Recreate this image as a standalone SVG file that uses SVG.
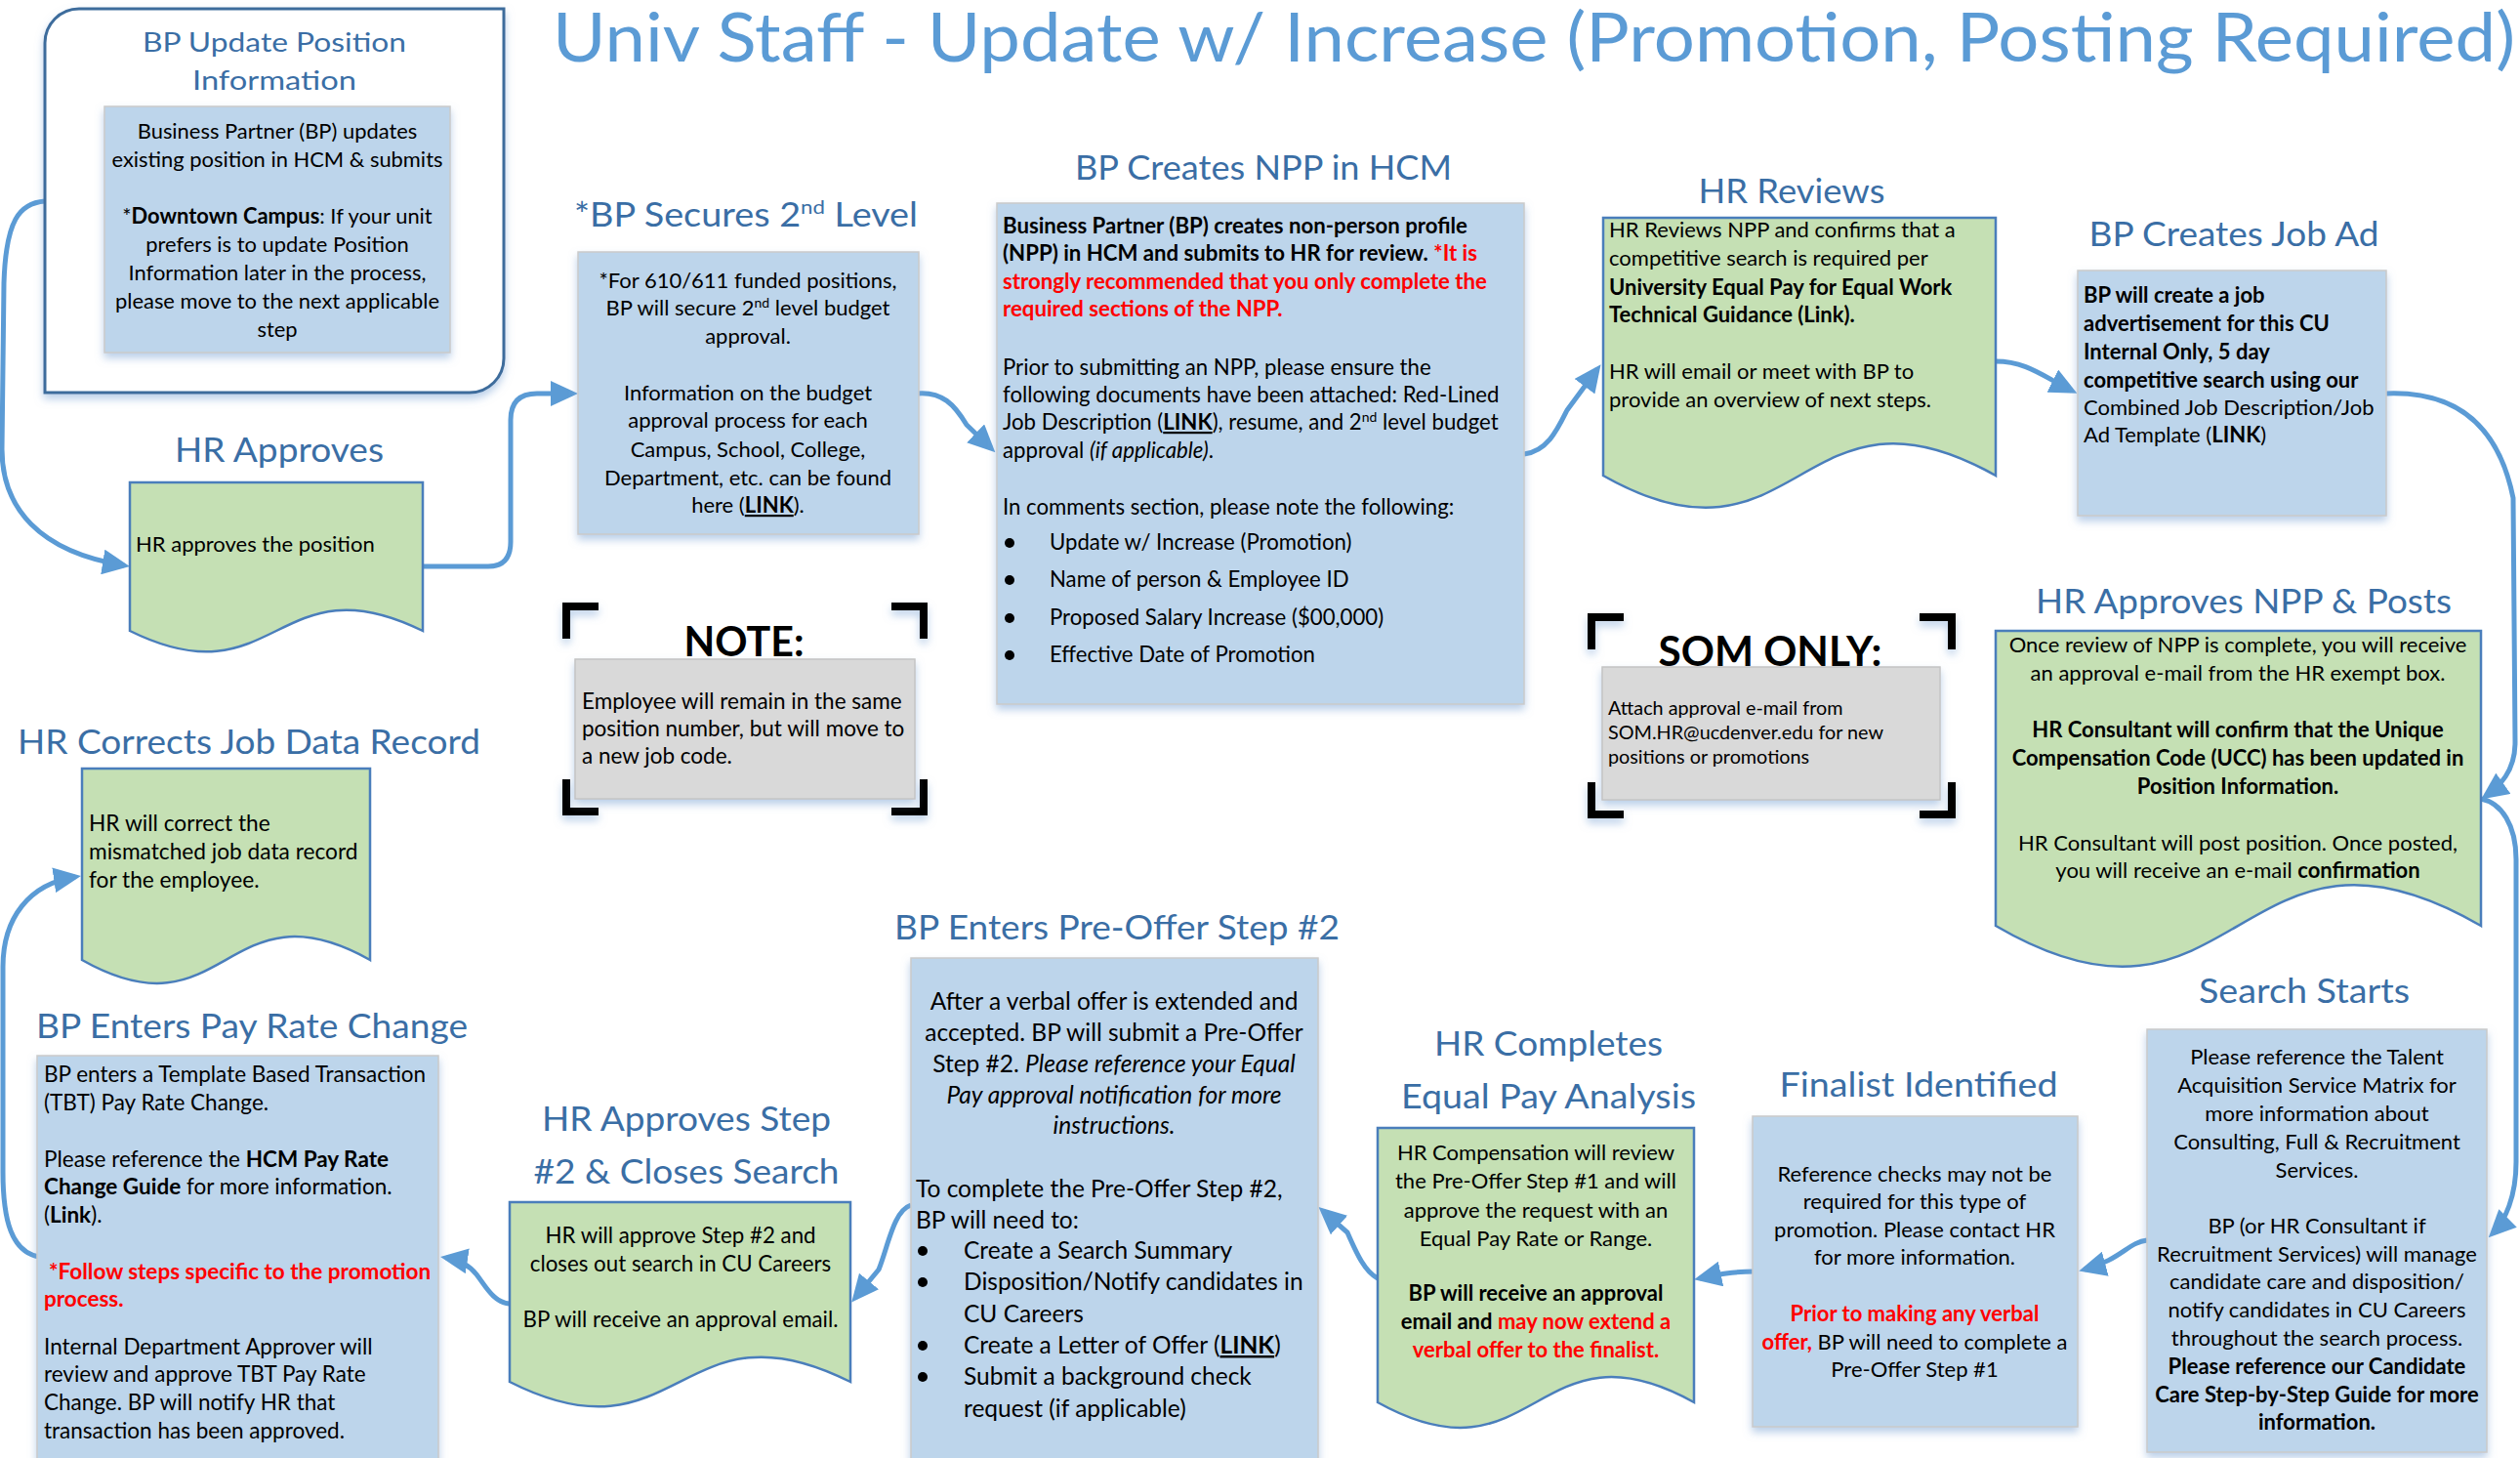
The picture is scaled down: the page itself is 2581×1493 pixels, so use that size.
<svg xmlns="http://www.w3.org/2000/svg" width="2581" height="1493" viewBox="0 0 2581 1493">
<style>
.ttl{font-family:Lato,"Open Sans",sans-serif;fill:#3A6EA5}
.tx{font-family:Lato,"Open Sans",sans-serif;fill:#000}
.b{font-weight:bold}
.r{fill:#FF0000;font-weight:bold}
.i{font-style:italic}
.u{text-decoration:underline}
.blue{fill:#BDD5EB;stroke:#CACACA;stroke-width:1.5}
.grey{fill:#D9D9D9;stroke:#C4C4C4;stroke-width:1.5}
.doc{fill:#C5E0B4;stroke:#4A7EBB;stroke-width:2.5}
.con{fill:none;stroke:#5B9BD5;stroke-width:5;marker-end:url(#ah)}
.brk{fill:none;stroke:#000;stroke-width:8}
.hd{font-family:Lato,"Open Sans",sans-serif;font-weight:bold;fill:#000}
</style>
<defs>
<filter id="sh" x="-10%" y="-10%" width="120%" height="130%">
<feDropShadow dx="0" dy="5" stdDeviation="4" flood-color="#7FA7D6" flood-opacity="0.55"/>
</filter>
<marker id="ah" markerUnits="userSpaceOnUse" viewBox="0 0 28 26" markerWidth="28" markerHeight="26" refX="22" refY="13" orient="auto">
<path d="M0,0 L28,13 L0,26 Z" fill="#5B9BD5"/>
</marker>
</defs>
<rect width="2581" height="1493" fill="#fff"/>

<g id="title">
<text x="566" y="63" font-family="Lato, 'Open Sans', sans-serif" font-size="70" textLength="2010" lengthAdjust="spacingAndGlyphs" fill="#5B9BD5">Univ Staff - Update w/ Increase (Promotion, Posting Required)</text>
</g>

<g id="connectors">
<path class="con" d="M46,206 C20,208 6,225 4,290 L2,460 C2,520 40,565 127,579"/>
<path class="con" d="M433,580 H500 Q523,580 523,555 V430 Q523,403 550,403 H586"/>
<path class="con" d="M938,403 C965,400 978,415 990,435 L1015,459"/>
<path class="con" d="M1561,465 C1585,462 1595,440 1605,420 L1636,378"/>
<path class="con" d="M2044,370 C2075,370 2092,385 2122,400"/>
<path class="con" d="M2444,403 C2520,400 2560,440 2574,510 L2576,760 C2576,790 2560,805 2546,815"/>
<path class="con" d="M2541,818 C2562,822 2577,845 2577,880 L2577,1190 C2577,1225 2566,1250 2553,1263"/>
<path class="con" d="M2199,1270 C2180,1272 2172,1290 2135,1300"/>
<path class="con" d="M1797,1302 C1775,1302 1760,1305 1741,1309"/>
<path class="con" d="M1411,1309 C1398,1302 1390,1285 1380,1262 L1355,1240"/>
<path class="con" d="M933,1234 C915,1240 910,1275 900,1300 L876,1329"/>
<path class="con" d="M522,1335 C505,1333 498,1318 488,1305 C480,1295 470,1290 457,1288"/>
<path class="con" d="M40,1287 C12,1282 3,1250 3,1200 L3,990 C3,940 30,905 77,898"/>
</g>

<g id="bp-update">
<path d="M46,44 A35,35 0 0 1 81,9 H516 V367 A35,35 0 0 1 481,402 H46 Z" fill="#fff" stroke="#3E6C9C" stroke-width="3" filter="url(#sh)"/>
<text class="ttl" x="281" y="53" text-anchor="middle" font-size="27" textLength="270" lengthAdjust="spacingAndGlyphs">BP Update Position</text>
<text class="ttl" x="281" y="92" text-anchor="middle" font-size="27" textLength="168" lengthAdjust="spacingAndGlyphs">Information</text>
<rect class="blue" x="107" y="109" width="354" height="252" filter="url(#sh)"/>
<g class="tx" font-size="21.9" text-anchor="middle">
<text x="284" y="142">Business Partner (BP) updates</text>
<text x="284" y="171">existing position in HCM &amp; submits</text>
<text x="284" y="229">*<tspan class="b">Downtown Campus</tspan>: If your unit</text>
<text x="284" y="258">prefers is to update Position</text>
<text x="284" y="287">Information later in the process,</text>
<text x="284" y="316">please move to the next applicable</text>
<text x="284" y="345">step</text>
</g>
</g>

<g id="hr-approves">
<text class="ttl" x="286" y="473" text-anchor="middle" font-size="34" textLength="214" lengthAdjust="spacingAndGlyphs">HR Approves</text>
<path class="doc" d="M133,494 H433 V646 C283,572 283,720 133,646 Z"/>
<text class="tx" x="139" y="565" font-size="22">HR approves the position</text>
</g>

<g id="bp-secures">
<text class="ttl" x="588" y="232" font-size="34" textLength="352" lengthAdjust="spacingAndGlyphs">*BP Secures 2<tspan dy="-13" font-size="20">nd</tspan><tspan dy="13"> Level</tspan></text>
<rect class="blue" x="592" y="258" width="349" height="289" filter="url(#sh)"/>
<g class="tx" font-size="22" text-anchor="middle">
<text x="766" y="295">*For 610/611 funded positions,</text>
<text x="766" y="323">BP will secure 2<tspan dy="-8" font-size="14">nd</tspan><tspan dy="8"> level budget</tspan></text>
<text x="766" y="352">approval.</text>
<text x="766" y="410">Information on the budget</text>
<text x="766" y="438">approval process for each</text>
<text x="766" y="468">Campus, School, College,</text>
<text x="766" y="497">Department, etc. can be found</text>
<text x="766" y="525">here (<tspan class="b u">LINK</tspan>).</text>
</g>
</g>

<g id="bp-npp">
<text class="ttl" x="1294" y="184" text-anchor="middle" font-size="34" textLength="386" lengthAdjust="spacingAndGlyphs">BP Creates NPP in HCM</text>
<rect class="blue" x="1021" y="208" width="540" height="513" filter="url(#sh)"/>
<g class="tx" font-size="22.2">
<text x="1027" y="239" class="b">Business Partner (BP) creates non-person profile</text>
<text x="1027" y="267"><tspan class="b">(NPP) in HCM and submits to HR for review. </tspan><tspan class="r">*It is</tspan></text>
<text x="1027" y="296" class="r">strongly recommended that you only complete the</text>
<text x="1027" y="324" class="r">required sections of the NPP.</text>
<text x="1027" y="384">Prior to submitting an NPP, please ensure the</text>
<text x="1027" y="412">following documents have been attached: Red-Lined</text>
<text x="1027" y="440">Job Description (<tspan class="b u">LINK</tspan>), resume,  and 2<tspan dy="-8" font-size="14">nd</tspan><tspan dy="8"> level budget</tspan></text>
<text x="1027" y="469">approval <tspan class="i">(if applicable)</tspan>.</text>
<text x="1027" y="527">In comments section, please note the following:</text>
<text x="1075" y="563">Update w/ Increase (Promotion)</text>
<text x="1075" y="601">Name of person &amp; Employee ID</text>
<text x="1075" y="640">Proposed Salary Increase ($00,000)</text>
<text x="1075" y="678">Effective Date of Promotion</text>
</g>
<g fill="#000">
<circle cx="1034" cy="556" r="5"/>
<circle cx="1034" cy="594" r="5"/>
<circle cx="1034" cy="633" r="5"/>
<circle cx="1034" cy="671" r="5"/>
</g>
</g>

<g id="hr-reviews">
<text class="ttl" x="1835" y="208" text-anchor="middle" font-size="34" textLength="191" lengthAdjust="spacingAndGlyphs">HR Reviews</text>
<path class="doc" d="M1642,223 H2044 V487 C1843,373 1843,601 1642,487 Z"/>
<g class="tx" font-size="22">
<text x="1648" y="243">HR Reviews NPP and confirms that a</text>
<text x="1648" y="272">competitive search is required per</text>
<text x="1648" y="302" class="b">University Equal Pay for Equal Work</text>
<text x="1648" y="330" class="b">Technical Guidance (Link).</text>
<text x="1648" y="388">HR will email or meet with BP to</text>
<text x="1648" y="417">provide an overview of next steps.</text>
</g>
</g>

<g id="bp-job-ad">
<text class="ttl" x="2288" y="252" text-anchor="middle" font-size="34" textLength="297" lengthAdjust="spacingAndGlyphs">BP Creates Job Ad</text>
<rect class="blue" x="2128" y="277" width="316" height="251" filter="url(#sh)"/>
<g class="tx" font-size="22">
<text x="2134" y="310" class="b">BP will create a job</text>
<text x="2134" y="339" class="b">advertisement for this CU</text>
<text x="2134" y="368" class="b">Internal Only, 5 day</text>
<text x="2134" y="397" class="b">competitive search using our</text>
<text x="2134" y="425">Combined Job Description/Job</text>
<text x="2134" y="453">Ad Template (<tspan class="b">LINK</tspan>)</text>
</g>
</g>

<g id="hr-approves-npp">
<text class="ttl" x="2298" y="628" text-anchor="middle" font-size="34" textLength="426" lengthAdjust="spacingAndGlyphs">HR Approves NPP &amp; Posts</text>
<path class="doc" d="M2044,646 H2541 V948 C2292,803 2292,1093 2044,948 Z"/>
<g class="tx" font-size="22" text-anchor="middle">
<text x="2292" y="668">Once review of NPP is complete, you will receive</text>
<text x="2292" y="697">an approval e-mail from the HR exempt box.</text>
<text x="2292" y="755" class="b">HR Consultant will confirm that the Unique</text>
<text x="2292" y="784" class="b">Compensation Code (UCC) has been updated in</text>
<text x="2292" y="813" class="b">Position Information.</text>
<text x="2292" y="871">HR Consultant will post position. Once posted,</text>
<text x="2292" y="899">you will receive an e-mail <tspan class="b">confirmation</tspan></text>
</g>
</g>

<g id="som-only">
<g filter="url(#sh)">
<path class="brk" d="M1630,665 V632 H1663 M1966,632 H1999 V665 M1630,801 V834 H1663 M1966,834 H1999 V801"/>
</g>
<text class="hd" x="1813" y="682" text-anchor="middle" font-size="42" textLength="229" lengthAdjust="spacingAndGlyphs">SOM ONLY:</text>
<rect class="grey" x="1641" y="683" width="346" height="136" filter="url(#sh)"/>
<g class="tx" font-size="19.8">
<text x="1647" y="732">Attach approval e-mail from</text>
<text x="1647" y="757">SOM.HR@ucdenver.edu for new</text>
<text x="1647" y="782">positions or promotions</text>
</g>
</g>

<g id="note">
<g filter="url(#sh)">
<path class="brk" d="M580,654 V621 H613 M913,621 H946 V654 M580,798 V831 H613 M913,831 H946 V798"/>
</g>
<text class="hd" x="762" y="672" text-anchor="middle" font-size="42" textLength="123" lengthAdjust="spacingAndGlyphs">NOTE:</text>
<rect class="grey" x="589" y="675" width="348" height="143" filter="url(#sh)"/>
<g class="tx" font-size="22.5">
<text x="596" y="726">Employee will remain in the same</text>
<text x="596" y="754">position number, but will move to</text>
<text x="596" y="782">a new job code.</text>
</g>
</g>

<g id="hr-corrects">
<text class="ttl" x="18" y="772" font-size="34" textLength="474" lengthAdjust="spacingAndGlyphs">HR Corrects Job Data Record</text>
<path class="doc" d="M84,787 H379 V983 C231,900 231,1066 84,983 Z"/>
<g class="tx" font-size="22.7">
<text x="91" y="851">HR will correct the</text>
<text x="91" y="880">mismatched job data record</text>
<text x="91" y="909">for the employee.</text>
</g>
</g>

<g id="bp-pay-rate">
<text class="ttl" x="37" y="1063" font-size="34" textLength="442" lengthAdjust="spacingAndGlyphs">BP Enters Pay Rate Change</text>
<rect class="blue" x="38" y="1081" width="411" height="420" filter="url(#sh)"/>
<g class="tx" font-size="22.5">
<text x="45" y="1108">BP enters a Template Based Transaction</text>
<text x="45" y="1137">(TBT) Pay Rate Change.</text>
<text x="45" y="1195">Please reference the <tspan class="b">HCM Pay Rate</tspan></text>
<text x="45" y="1223"><tspan class="b">Change Guide</tspan> for more information.</text>
<text x="45" y="1252">(<tspan class="b">Link</tspan>).</text>
<text x="50" y="1310" class="r">*Follow steps specific to the promotion</text>
<text x="45" y="1338" class="r">process.</text>
<text x="45" y="1387">Internal Department Approver will</text>
<text x="45" y="1415">review and approve TBT Pay Rate</text>
<text x="45" y="1444">Change. BP will notify HR that</text>
<text x="45" y="1473">transaction has been approved.</text>
</g>
</g>

<g id="hr-approves-step2">
<text class="ttl" x="703" y="1158" text-anchor="middle" font-size="34" textLength="296" lengthAdjust="spacingAndGlyphs">HR Approves Step</text>
<text class="ttl" x="703" y="1212" text-anchor="middle" font-size="34" textLength="313" lengthAdjust="spacingAndGlyphs">#2 &amp; Closes Search</text>
<path class="doc" d="M522,1231 H871 V1415 C696,1327 696,1503 522,1415 Z"/>
<g class="tx" font-size="22.3" text-anchor="middle">
<text x="697" y="1273">HR will approve Step #2 and</text>
<text x="697" y="1302">closes out search in CU Careers</text>
<text x="697" y="1359">BP will receive an approval email.</text>
</g>
</g>

<g id="bp-pre-offer">
<text class="ttl" x="916" y="962" font-size="34" textLength="456" lengthAdjust="spacingAndGlyphs">BP Enters Pre-Offer Step #2</text>
<rect class="blue" x="933" y="981" width="417" height="520" filter="url(#sh)"/>
<g class="tx" font-size="24.5">
<g text-anchor="middle">
<text x="1141" y="1034">After a verbal offer is extended and</text>
<text x="1141" y="1066">accepted. BP will submit a Pre-Offer</text>
<text x="1141" y="1098">Step #2. <tspan class="i">Please reference your Equal</tspan></text>
<text x="1141" y="1130" class="i">Pay approval notification for more</text>
<text x="1141" y="1161" class="i">instructions.</text>
</g>
<text x="938" y="1226">To complete the Pre-Offer Step #2,</text>
<text x="938" y="1258">BP will need to:</text>
<text x="987" y="1289">Create a Search Summary</text>
<text x="987" y="1321">Disposition/Notify candidates in</text>
<text x="987" y="1354">CU Careers</text>
<text x="987" y="1386">Create a Letter of Offer (<tspan class="b u">LINK</tspan>)</text>
<text x="987" y="1418">Submit a background check</text>
<text x="987" y="1451">request (if applicable)</text>
</g>
<g fill="#000">
<circle cx="945" cy="1281" r="5"/>
<circle cx="945" cy="1313" r="5"/>
<circle cx="945" cy="1378" r="5"/>
<circle cx="945" cy="1410" r="5"/>
</g>
</g>

<g id="hr-equal-pay">
<text class="ttl" x="1586" y="1081" text-anchor="middle" font-size="34" textLength="234" lengthAdjust="spacingAndGlyphs">HR Completes</text>
<text class="ttl" x="1586" y="1135" text-anchor="middle" font-size="34" textLength="302" lengthAdjust="spacingAndGlyphs">Equal Pay Analysis</text>
<path class="doc" d="M1411,1155 H1735 V1436 C1573,1346 1573,1526 1411,1436 Z"/>
<g class="tx" font-size="22" text-anchor="middle">
<text x="1573" y="1188">HR Compensation will review</text>
<text x="1573" y="1217">the Pre-Offer Step #1 and will</text>
<text x="1573" y="1247">approve the request with an</text>
<text x="1573" y="1276">Equal Pay Rate or Range.</text>
<text x="1573" y="1332" class="b">BP will receive an approval</text>
<text x="1573" y="1361"><tspan class="b">email and </tspan><tspan class="r">may now extend a</tspan></text>
<text x="1573" y="1390" class="r">verbal offer to the finalist.</text>
</g>
</g>

<g id="finalist">
<text class="ttl" x="1965" y="1123" text-anchor="middle" font-size="34" textLength="285" lengthAdjust="spacingAndGlyphs">Finalist Identified</text>
<rect class="blue" x="1795" y="1143" width="333" height="318" filter="url(#sh)"/>
<g class="tx" font-size="22" text-anchor="middle">
<text x="1961" y="1210">Reference checks may not be</text>
<text x="1961" y="1238">required for this type of</text>
<text x="1961" y="1267">promotion. Please contact HR</text>
<text x="1961" y="1295">for more information.</text>
<text x="1961" y="1353" class="r">Prior to making any verbal</text>
<text x="1961" y="1382"><tspan class="r">offer,</tspan> BP will need to complete a</text>
<text x="1961" y="1410">Pre-Offer Step #1</text>
</g>
</g>

<g id="search-starts">
<text class="ttl" x="2360" y="1027" text-anchor="middle" font-size="34" textLength="216" lengthAdjust="spacingAndGlyphs">Search Starts</text>
<rect class="blue" x="2199" y="1054" width="348" height="433" filter="url(#sh)"/>
<g class="tx" font-size="22" text-anchor="middle">
<text x="2373" y="1090">Please reference the Talent</text>
<text x="2373" y="1119">Acquisition Service Matrix for</text>
<text x="2373" y="1148">more information about</text>
<text x="2373" y="1177">Consulting, Full &amp; Recruitment</text>
<text x="2373" y="1206">Services.</text>
<text x="2373" y="1263">BP (or HR Consultant if</text>
<text x="2373" y="1292">Recruitment Services) will manage</text>
<text x="2373" y="1320">candidate care and disposition/</text>
<text x="2373" y="1349">notify candidates in CU Careers</text>
<text x="2373" y="1378">throughout the search process.</text>
<text x="2373" y="1407" class="b">Please reference our Candidate</text>
<text x="2373" y="1436" class="b">Care Step-by-Step Guide for more</text>
<text x="2373" y="1464" class="b">information.</text>
</g>
</g>
</svg>
